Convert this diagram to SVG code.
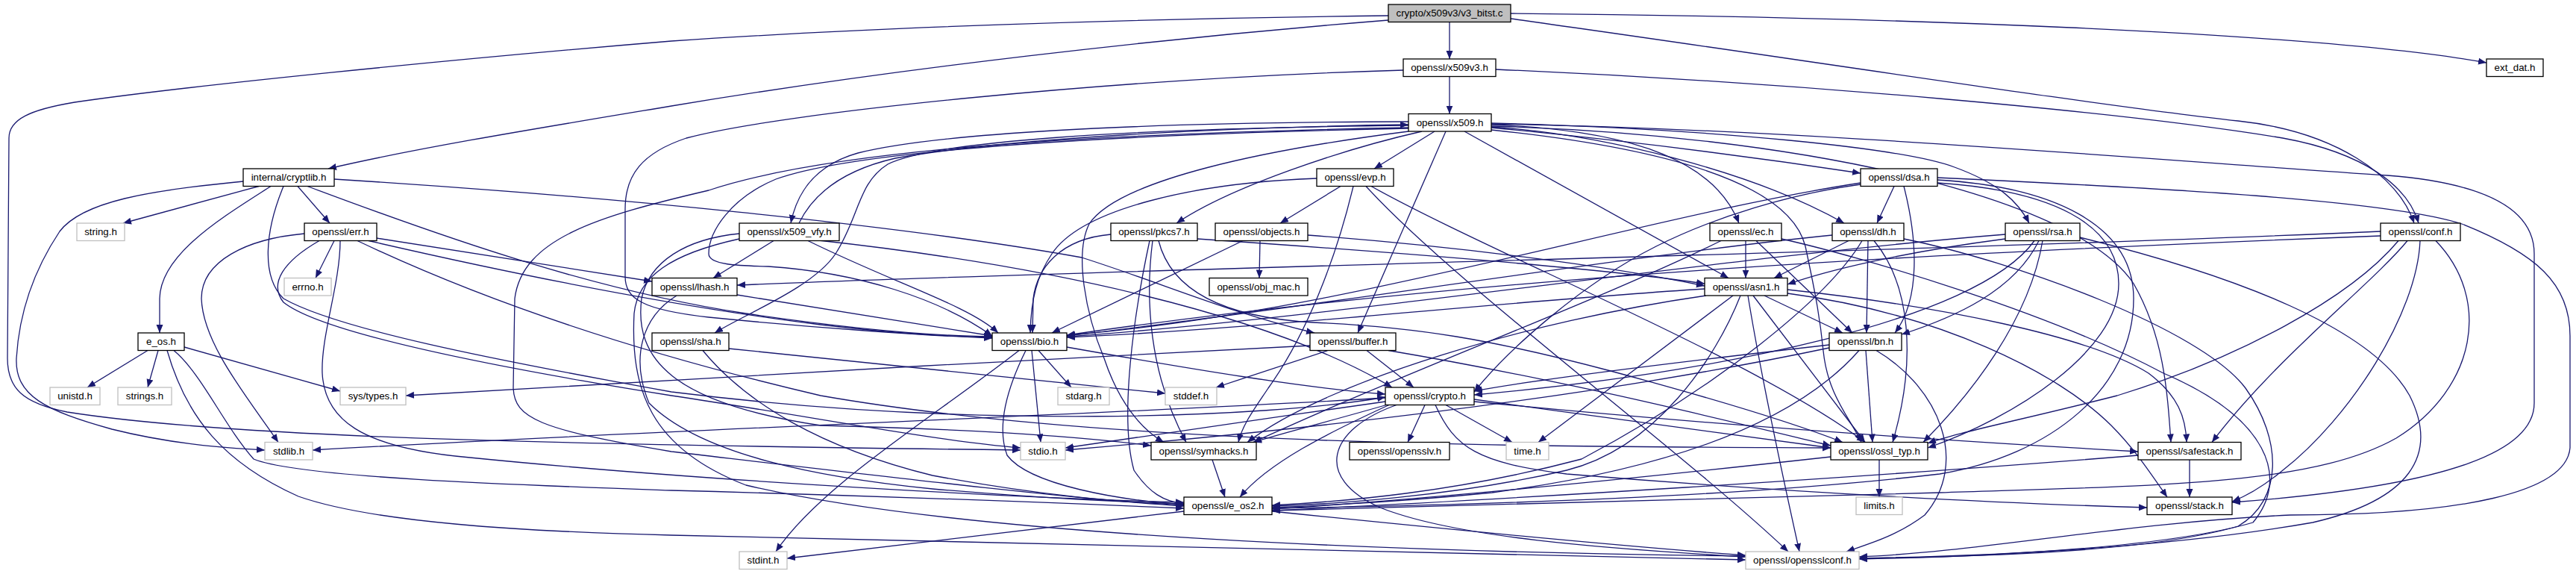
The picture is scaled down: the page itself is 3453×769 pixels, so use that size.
<svg xmlns="http://www.w3.org/2000/svg" width="3453" height="769" viewBox="0 0 3453 769">
<defs>
<marker id="a" markerWidth="12" markerHeight="10" refX="11" refY="4.5" orient="auto" markerUnits="userSpaceOnUse"><path d="M0,0 L11,4.5 L0,9 z" fill="#191970"/></marker>
<style>
.n rect{fill:#fff;stroke:#000;stroke-width:1.3}
.g rect{fill:#fff;stroke:#bfbfbf;stroke-width:1.3}
.r rect{fill:#bfbfbf;stroke:#000;stroke-width:1.3}
text{font-family:"Liberation Sans",Arial,Helvetica,sans-serif;font-size:13.33px;text-anchor:middle;fill:#000}
#edges path{fill:none;stroke:#191970;stroke-width:1.3;marker-end:url(#a)}
</style>
</defs>
<rect width="3453" height="769" fill="#fff"/>
<g id="edges">
<path d="M1943,29.5 L1943,79"/>
<path d="M2025,18 C2500,22 3100,42 3333,84"/>
<path d="M2025,25 C2350,70 2800,140 3000,162 C3130,176 3215,235 3236,299"/>
<path d="M1861,27 C1550,52 1200,92 900,142 C720,172 560,198 440,226"/>
<path d="M1861,21 C1500,25 1150,38 900,55 C600,80 250,115 100,137 C40,147 12,160 12,185 L10,480 C10,520 30,540 90,552 C300,585 700,595 1368,603"/>
<path d="M1943,102.5 L1943,152.5"/>
<path d="M2005,93 C2400,110 2850,150 3060,185 C3170,205 3228,250 3242,299"/>
<path d="M1881,94 C1500,105 1050,150 920,185 C860,205 838,235 838,280 L838,370 C838,400 860,415 950,425 C1100,440 1250,450 1330,453"/>
<path d="M1923,176 L1842,226"/>
<path d="M1906,176 C1800,200 1650,250 1577,299"/>
<path d="M1938,176 L1820,446"/>
<path d="M1963,176 L2317,372.5"/>
<path d="M1999,167 C2200,175 2300,220 2331,299"/>
<path d="M1999,170 C2150,180 2350,230 2472,299"/>
<path d="M1999,171 Q2250,195 2494,232"/>
<path d="M1999,165 C2300,173 2550,198 2620,224 C2680,246 2705,270 2720,299"/>
<path d="M1888,168 C1500,172 1250,190 1190,220 C1150,245 1152,290 1120,340 C1090,385 1000,420 958,446"/>
<path d="M1888,163 C1500,164 1250,180 1150,205 C1090,222 1068,260 1060,299"/>
<path d="M1071,299 C1090,260 1130,228 1200,212 C1350,185 1650,170 1888,167"/>
<path d="M1888,171 C1400,180 1100,205 950,255 C800,290 700,320 690,400 L688,520 C690,560 720,575 900,605 C1200,640 1450,670 1587,678"/>
<path d="M1999,166 C2400,172 2900,215 3200,235 C3330,245 3397,280 3397,340 L3397,540 C3397,600 3300,650 2992,673"/>
<path d="M1888,172 C1500,180 1150,200 1040,240 C980,265 950,310 950,340 C950,355 990,356 1030,357 C1150,365 1260,400 1330,450"/>
<path d="M1999,174 C2250,200 2400,250 2420,330 C2435,400 2440,430 2444,470 C2450,530 2480,560 2495,592.5"/>
<path d="M1888,176 C1700,200 1500,240 1460,300 C1440,340 1455,420 1480,480 C1500,540 1530,575 1560,592.5"/>
<path d="M1999,169 C2400,180 2780,260 2860,380 C2900,450 2905,520 2910,592.5"/>
<path d="M326,243 C200,255 110,270 80,310 C40,370 25,430 22,480 C20,530 60,550 150,575 C230,595 300,600 355,603"/>
<path d="M347,249.5 L165,299"/>
<path d="M363,249.5 C300,290 215,340 214,400 L214,446"/>
<path d="M399,249.5 L442,299"/>
<path d="M448,240 C800,262 1200,300 1450,345 C1560,380 1650,420 1762,446"/>
<path d="M412,249.5 C600,320 800,390 1000,420 C1150,442 1250,450 1330,451"/>
<path d="M380,249.5 C355,310 350,370 380,400 C450,440 650,480 900,525 C1300,575 1700,560 1857,532"/>
<path d="M408,313 C330,320 270,350 270,400 C272,460 330,530 373,592.5"/>
<path d="M428,322.5 C380,350 360,380 380,405 C430,445 650,490 900,530 C1100,560 1250,590 1368,600"/>
<path d="M456,322.5 C456,380 430,450 432,500 C435,560 480,600 630,613 C900,640 1300,665 1587,673"/>
<path d="M479,322.5 C600,380 800,460 1100,530 C1500,600 2100,598 2454,600"/>
<path d="M494,322.5 C700,370 900,410 1100,435 C1200,447 1280,451 1330,452"/>
<path d="M505,319 L874,377"/>
<path d="M448,322.5 L423,372.5"/>
<path d="M198,469.5 L117,519"/>
<path d="M212,469.5 L198,519"/>
<path d="M247,465 L456,524"/>
<path d="M224,469.5 C250,560 300,620 400,665 C500,700 700,712 900,717 C1500,735 2100,745 2340,750"/>
<path d="M233,469.5 C270,500 300,570 340,615 C400,640 700,650 900,657 C1200,665 1450,675 1587,681"/>
<path d="M1037,322.5 L956,372.5"/>
<path d="M1083,322.5 C1200,380 1300,410 1338,446"/>
<path d="M1097,322 C1400,355 1700,420 1866,519"/>
<path d="M991,313 C920,320 870,350 860,400 C850,480 900,540 1100,570 C1300,575 1450,585 1543,597"/>
<path d="M991,320 C900,340 855,370 850,420 C845,520 870,600 1000,650 C1300,720 1900,740 2340,745"/>
<path d="M907,396 C860,425 845,480 870,540 C940,610 1100,640 1250,655 C1400,668 1500,672 1587,675"/>
<path d="M988,395 L1330,450"/>
<path d="M1797,249.5 L1716,299"/>
<path d="M1765,239 C1600,245 1450,280 1410,340 C1390,370 1382,400 1381,446"/>
<path d="M1831,249.5 C1950,380 2250,600 2397,739"/>
<path d="M1838,249.5 C2000,340 2350,480 2500,592.5"/>
<path d="M1814,249.5 C1790,350 1750,450 1700,520 C1680,550 1665,570 1660,592.5"/>
<path d="M1489,314 C1420,320 1390,360 1385,400 L1384,446"/>
<path d="M1545,322.5 C1535,400 1540,500 1590,592.5"/>
<path d="M1553,322.5 C1570,390 1640,425 1760,432 C1900,438 2000,455 2159,497 C2300,535 2400,565 2470,592.5"/>
<path d="M1541,322.5 C1520,420 1500,560 1520,630 C1540,660 1560,672 1587,675"/>
<path d="M1605,320 C1900,340 2150,360 2285,380"/>
<path d="M1689,322.5 L1688,372.5"/>
<path d="M1666,322.5 L1410,446"/>
<path d="M1753,315 C1950,330 2150,355 2285,383"/>
<path d="M2340,322.5 L2340,372.5"/>
<path d="M2307,322.5 C2150,400 1880,500 1680,592.5"/>
<path d="M2354,322.5 L2483,446"/>
<path d="M2388,320 C2500,345 2750,420 2900,500 C3040,560 3070,640 3020,700 C2900,735 2650,746 2492,749"/>
<path d="M2456,315 C2200,340 1700,420 1430,450"/>
<path d="M2478,322.5 L2378,372.5"/>
<path d="M2496,322.5 C2450,400 2300,520 2120,615 C1950,660 1800,672 1705,677"/>
<path d="M2504,322.5 L2502,446"/>
<path d="M2512,322.5 C2560,380 2570,480 2537,592.5"/>
<path d="M2552,320 C2700,350 2950,440 3010,520 C3060,590 3060,670 3000,705 C2880,740 2650,746 2492,748"/>
<path d="M2539,249.5 L2516,299"/>
<path d="M2494,245 C2200,290 1800,420 1430,449"/>
<path d="M2494,247 C2400,260 2300,290 2220,330 C2120,380 2020,470 1976,525"/>
<path d="M2552,249.5 C2570,320 2575,400 2540,446"/>
<path d="M2597,245 C2750,255 2840,300 2840,380 C2840,470 2700,560 2584,600"/>
<path d="M2597,238 C2900,252 3200,268 3300,300 C3400,340 3445,380 3445,450 L3445,600 C3440,660 3300,690 3070,690 C2850,700 2650,740 2492,746"/>
<path d="M2597,241 C2750,250 2860,300 2860,400 C2860,520 2750,610 2600,635 C2300,670 1900,678 1705,681"/>
<path d="M2688,314 C2300,345 1800,425 1430,451"/>
<path d="M2688,320 C2550,338 2450,362 2396,381"/>
<path d="M2727,322.5 C2650,430 2300,500 1976,529"/>
<path d="M2733,322.5 C2700,390 2620,425 2549,448"/>
<path d="M2738,322.5 C2720,430 2640,530 2578,592.5"/>
<path d="M2788,318 C3000,370 3180,440 3230,530 C3270,610 3230,670 3100,700 C2900,735 2650,745 2492,748"/>
<path d="M3191,310 C2500,340 1500,360 988,382"/>
<path d="M3191,316 C2700,335 2000,365 1430,449"/>
<path d="M3227,322.5 C3180,380 3050,480 2965,592.5"/>
<path d="M3244,322.5 C3240,420 3150,560 3060,630 C3030,655 3010,665 2992,672"/>
<path d="M3265,322.5 C3340,400 3320,520 3212,587 C3100,650 2900,650 2600,660 C2200,672 1900,680 1705,684"/>
<path d="M3215,322.5 C3150,400 3000,480 2838,530 C2700,565 2620,580 2584,594"/>
<path d="M2323,396 L2062,592.5"/>
<path d="M2333,396 C2300,480 2220,600 2100,630 C1950,665 1780,676 1705,678"/>
<path d="M2343,396 C2360,500 2390,640 2412,739"/>
<path d="M2350,396 L2500,592.5"/>
<path d="M2365,396 L2470,446"/>
<path d="M2396,393 C2600,420 2760,500 2830,570 C2860,600 2880,630 2905,666"/>
<path d="M2396,388 C2600,410 2800,450 2880,500 C2920,530 2930,560 2931,592.5"/>
<path d="M2285,387 C2000,405 1700,440 1430,452"/>
<path d="M2287,396 C2050,430 1780,510 1672,592.5"/>
<path d="M1366,469.5 C1250,560 1100,650 1040,739"/>
<path d="M1392,469.5 L1436,519"/>
<path d="M1383,469.5 L1395,592.5"/>
<path d="M1375,469.5 C1350,520 1335,570 1350,610 C1380,650 1500,670 1587,676"/>
<path d="M1430,465 C1600,495 1750,520 1857,528"/>
<path d="M1832,469.5 L1895,519"/>
<path d="M1780,469.5 L1630,519"/>
<path d="M1756,463 C1400,480 800,515 544,530"/>
<path d="M1861,469.5 C2100,510 2300,560 2454,597"/>
<path d="M977,467 C1200,490 1400,510 1562,527"/>
<path d="M942,469.5 C1000,540 1100,600 1250,637 C1400,665 1500,672 1587,677"/>
<path d="M2452,462 C2250,485 2050,510 1976,524"/>
<path d="M2452,466 C2100,540 1700,580 1428,603"/>
<path d="M2492,469.5 C2430,540 2300,620 2000,660 C1850,675 1750,678 1705,680"/>
<path d="M2501,469.5 L2510,592.5"/>
<path d="M2515,469.5 C2600,520 2640,620 2580,690 C2540,720 2500,730 2475,739"/>
<path d="M1910,542.5 L1887,592.5"/>
<path d="M1938,542.5 L2027,592.5"/>
<path d="M1924,542.5 C1950,600 1980,620 2100,635 C2400,660 2700,675 2878,680"/>
<path d="M1872,542.5 C1780,575 1760,640 1850,680 C1950,720 2150,735 2340,746"/>
<path d="M1862,542.5 C1780,580 1700,620 1662,666"/>
<path d="M1857,533 C1500,555 900,575 419,603"/>
<path d="M1857,538 C1700,560 1500,590 1428,600"/>
<path d="M1860,542 C1780,565 1720,580 1680,592.5"/>
<path d="M1976,535 C2150,560 2350,585 2454,600"/>
<path d="M1976,538 C2300,570 2600,590 2866,605"/>
<path d="M1625,616 L1642,666"/>
<path d="M2519,616 L2519,666"/>
<path d="M2454,612 C2200,640 1900,670 1705,682"/>
<path d="M2935,616 L2935,666"/>
<path d="M2866,610 C2500,640 2000,670 1705,684"/>
<path d="M1587,685 L1055,748"/>
<path d="M1705,685 C1900,705 2150,730 2340,744"/>
</g>
<g id="root" class="r"><rect x="1861" y="6" width="164" height="23.5"/><text x="1943" y="22.3">crypto/x509v3/v3_bitst.c</text></g>
<g id="x509v3" class="n"><rect x="1881" y="79" width="124" height="23.5"/><text x="1943" y="95.3">openssl/x509v3.h</text></g>
<g id="ext_dat" class="n"><rect x="3333" y="79" width="76" height="23.5"/><text x="3371" y="95.3">ext_dat.h</text></g>
<g id="x509" class="n"><rect x="1888" y="152.5" width="111" height="23.5"/><text x="1943.5" y="168.8">openssl/x509.h</text></g>
<g id="cryptlib" class="n"><rect x="326" y="226" width="122" height="23.5"/><text x="387" y="242.3">internal/cryptlib.h</text></g>
<g id="evp" class="n"><rect x="1765" y="226" width="103" height="23.5"/><text x="1816.5" y="242.3">openssl/evp.h</text></g>
<g id="dsa" class="n"><rect x="2494" y="226" width="103" height="23.5"/><text x="2545.5" y="242.3">openssl/dsa.h</text></g>
<g id="string" class="g"><rect x="103" y="299" width="64" height="23.5"/><text x="135" y="315.3">string.h</text></g>
<g id="err" class="n"><rect x="408" y="299" width="97" height="23.5"/><text x="456.5" y="315.3">openssl/err.h</text></g>
<g id="x509_vfy" class="n"><rect x="991" y="299" width="134" height="23.5"/><text x="1058" y="315.3">openssl/x509_vfy.h</text></g>
<g id="pkcs7" class="n"><rect x="1489" y="299" width="116" height="23.5"/><text x="1547" y="315.3">openssl/pkcs7.h</text></g>
<g id="objects" class="n"><rect x="1629" y="299" width="124" height="23.5"/><text x="1691" y="315.3">openssl/objects.h</text></g>
<g id="ec" class="n"><rect x="2292" y="299" width="96" height="23.5"/><text x="2340" y="315.3">openssl/ec.h</text></g>
<g id="dh" class="n"><rect x="2456" y="299" width="96" height="23.5"/><text x="2504" y="315.3">openssl/dh.h</text></g>
<g id="rsa" class="n"><rect x="2688" y="299" width="100" height="23.5"/><text x="2738" y="315.3">openssl/rsa.h</text></g>
<g id="conf" class="n"><rect x="3191" y="299" width="107" height="23.5"/><text x="3244.5" y="315.3">openssl/conf.h</text></g>
<g id="errno" class="g"><rect x="381" y="372.5" width="63" height="23.5"/><text x="412.5" y="388.8">errno.h</text></g>
<g id="lhash" class="n"><rect x="874" y="372.5" width="114" height="23.5"/><text x="931" y="388.8">openssl/lhash.h</text></g>
<g id="obj_mac" class="n"><rect x="1621" y="372.5" width="132" height="23.5"/><text x="1687" y="388.8">openssl/obj_mac.h</text></g>
<g id="asn1" class="n"><rect x="2285" y="372.5" width="111" height="23.5"/><text x="2340.5" y="388.8">openssl/asn1.h</text></g>
<g id="e_os" class="n"><rect x="185" y="446" width="62" height="23.5"/><text x="216" y="462.3">e_os.h</text></g>
<g id="sha" class="n"><rect x="874" y="446" width="103" height="23.5"/><text x="925.5" y="462.3">openssl/sha.h</text></g>
<g id="bio" class="n"><rect x="1330" y="446" width="100" height="23.5"/><text x="1380" y="462.3">openssl/bio.h</text></g>
<g id="buffer" class="n"><rect x="1756" y="446" width="115" height="23.5"/><text x="1813.5" y="462.3">openssl/buffer.h</text></g>
<g id="bn" class="n"><rect x="2452" y="446" width="97" height="23.5"/><text x="2500.5" y="462.3">openssl/bn.h</text></g>
<g id="unistd" class="g"><rect x="67" y="519" width="67" height="23.5"/><text x="100.5" y="535.3">unistd.h</text></g>
<g id="strings" class="g"><rect x="158" y="519" width="72" height="23.5"/><text x="194" y="535.3">strings.h</text></g>
<g id="systypes" class="g"><rect x="456" y="519" width="88" height="23.5"/><text x="500" y="535.3">sys/types.h</text></g>
<g id="stdarg" class="g"><rect x="1418" y="519" width="69" height="23.5"/><text x="1452.5" y="535.3">stdarg.h</text></g>
<g id="stddef" class="g"><rect x="1562" y="519" width="69" height="23.5"/><text x="1596.5" y="535.3">stddef.h</text></g>
<g id="crypto" class="n"><rect x="1857" y="519" width="119" height="23.5"/><text x="1916.5" y="535.3">openssl/crypto.h</text></g>
<g id="stdlib" class="g"><rect x="355" y="592.5" width="64" height="23.5"/><text x="387" y="608.8">stdlib.h</text></g>
<g id="stdio" class="g"><rect x="1368" y="592.5" width="60" height="23.5"/><text x="1398" y="608.8">stdio.h</text></g>
<g id="symhacks" class="n"><rect x="1543" y="592.5" width="141" height="23.5"/><text x="1613.5" y="608.8">openssl/symhacks.h</text></g>
<g id="opensslv" class="n"><rect x="1809" y="592.5" width="134" height="23.5"/><text x="1876" y="608.8">openssl/opensslv.h</text></g>
<g id="time" class="g"><rect x="2019" y="592.5" width="57" height="23.5"/><text x="2047.5" y="608.8">time.h</text></g>
<g id="ossl_typ" class="n"><rect x="2454" y="592.5" width="130" height="23.5"/><text x="2519" y="608.8">openssl/ossl_typ.h</text></g>
<g id="safestack" class="n"><rect x="2866" y="592.5" width="138" height="23.5"/><text x="2935" y="608.8">openssl/safestack.h</text></g>
<g id="e_os2" class="n"><rect x="1587" y="666" width="118" height="23.5"/><text x="1646" y="682.3">openssl/e_os2.h</text></g>
<g id="limits" class="g"><rect x="2488" y="666" width="62" height="23.5"/><text x="2519" y="682.3">limits.h</text></g>
<g id="stack" class="n"><rect x="2878" y="666" width="114" height="23.5"/><text x="2935" y="682.3">openssl/stack.h</text></g>
<g id="stdint" class="g"><rect x="991" y="739" width="64" height="23.5"/><text x="1023" y="755.3">stdint.h</text></g>
<g id="opensslconf" class="g"><rect x="2340" y="739" width="152" height="23.5"/><text x="2416" y="755.3">openssl/opensslconf.h</text></g>
</svg>
